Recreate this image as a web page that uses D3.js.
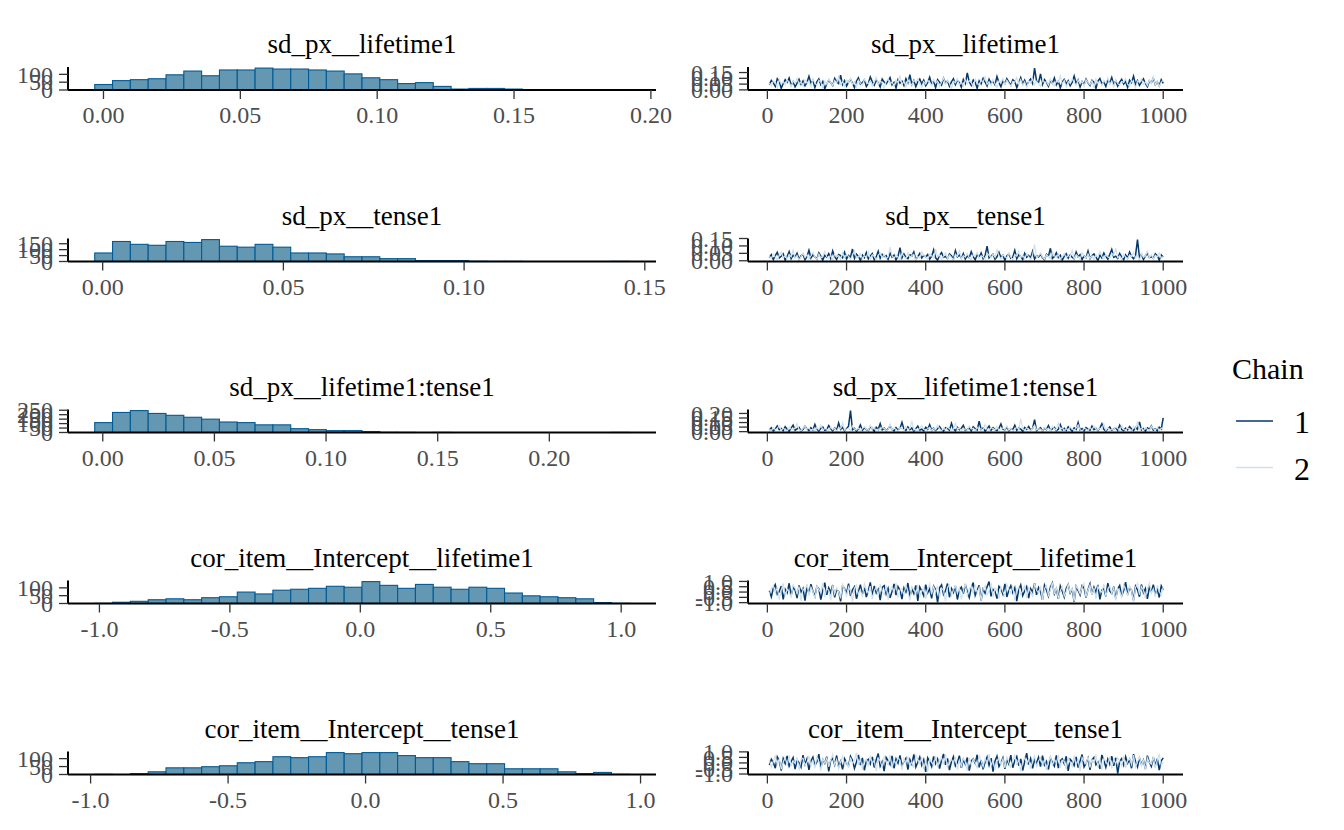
<!DOCTYPE html>
<html>
<head>
<meta charset="utf-8">
<script src="https://cdn.jsdelivr.net/npm/d3@7"></script>
<style>
  html, body { margin: 0; padding: 0; background: #ffffff; }
  svg { display: block; font-family: "Liberation Serif", "Times New Roman", serif; }
</style>
</head>
<body>
<svg id="chart" width="1344" height="830"></svg>
<script>
// ---------------- DATA ----------------
const params = ["sd_px__lifetime1", "sd_px__tense1", "sd_px__lifetime1:tense1",
                "cor_item__Intercept__lifetime1", "cor_item__Intercept__tense1"];

// histogram bins: first bin left edge, bin width, 30 counts
const histStart = [-0.0032, -0.0022, -0.0036, -1.018, -0.985];
const histWidth = [0.00651, 0.00493, 0.00798, 0.0683, 0.0648];
const histLifetime = [35,60,66,72,97,121,91,128,128,140,134,134,128,121,103,78,66,41,47,23,6,10,10,6,1,0,0,0,0,1];
const histTense = [72,169,145,137,169,161,185,129,121,145,121,72,72,64,40,40,24,24,8,8,8,2,1,1,0,0,0,0,0,1];
const histInteraction = [111,225,246,214,193,171,150,118,111,86,86,43,32,21,21,11,2,1,0,1,0,0,0,0,0,0,0,0,0,1];
const histCorLifetime = [1,8,14,24,30,24,37,43,73,61,85,91,97,110,104,140,116,97,122,104,91,104,97,67,49,43,37,30,6,1];
const histCorTense = [1,0,6,17,42,42,49,55,74,81,112,106,112,138,131,138,138,119,106,106,81,68,68,36,36,36,17,6,13,1];
const histCounts = [histLifetime, histTense, histInteraction, histCorLifetime, histCorTense];

const histXTicks = [[0,0.05,0.10,0.15,0.20],[0,0.05,0.10,0.15],[0,0.05,0.10,0.15,0.20],[-1,-0.5,0,0.5,1],[-1,-0.5,0,0.5,1]];
const histXLabels = [["0.00","0.05","0.10","0.15","0.20"],["0.00","0.05","0.10","0.15"],["0.00","0.05","0.10","0.15","0.20"],
                     ["-1.0","-0.5","0.0","0.5","1.0"],["-1.0","-0.5","0.0","0.5","1.0"]];
const histYTicks = [[0,50,100],[0,50,100,150],[0,50,100,150,200,250],[0,50,100],[0,50,100]];

const traceXTicks = [0,200,400,600,800,1000];
const traceXLabels = ["0","200","400","600","800","1000"];
const traceYTicks = [[0,0.05,0.10,0.15],[0,0.05,0.10,0.15],[0,0.05,0.10,0.15,0.20],[-1,-0.5,0,0.5,1],[-1,-0.5,0,0.5,1]];
const traceYLabels = [["0.00","0.05","0.10","0.15"],["0.00","0.05","0.10","0.15"],["0.00","0.05","0.10","0.15","0.20"],
                      ["-1.0","-0.5","0.0","0.5","1.0"],["-1.0","-0.5","0.0","0.5","1.0"]];
// trace draws are stored in these units (thousandths for sd, hundredths for cor), one value every 5 iterations
const traceUnit = [0.001, 0.001, 0.001, 0.01, 0.01];
const thinStep = 5;

const lifetimeChain1 = [45,82,61,30,97,74,12,55,88,66,103,41,70,26,59,92,48,77,35,64,
118,57,83,21,69,95,44,73,8,51,86,62,37,99,71,54,128,46,80,33,
67,91,58,19,75,104,49,63,87,29,56,112,72,40,84,60,24,93,68,52,
79,107,43,65,15,89,57,76,38,98,61,131,47,81,27,70,94,53,85,36,
63,110,50,74,18,88,66,42,101,59,78,32,69,96,45,83,62,23,90,55,
146,71,39,86,64,13,79,52,100,68,34,92,58,75,44,115,63,28,81,54,
97,67,41,88,73,20,60,106,49,84,37,71,95,56,189,77,62,139,46,89,
65,31,82,58,103,43,74,16,69,91,52,80,35,64,121,57,86,25,72,48,
94,61,38,83,67,11,76,99,53,70,29,87,59,108,45,78,33,66,92,50,
73,22,85,63,119,47,81,39,68,96,55,27,79,60,102,44,71,36,88,57];
const lifetimeChain2 = [58,36,77,64,19,90,52,71,43,85,66,28,79,55,102,47,69,33,88,61,
74,25,96,57,41,83,68,14,76,50,93,62,38,81,59,117,45,72,30,87,
63,100,48,70,22,84,56,39,91,67,53,78,31,65,109,44,80,60,17,73,
95,51,68,35,86,62,126,46,75,27,89,57,42,82,66,98,54,21,71,49,
85,63,37,92,58,76,29,67,104,45,81,56,12,74,61,97,40,70,33,87,
52,79,64,26,94,59,43,83,68,114,48,72,36,90,55,20,77,62,99,46,
84,57,31,73,66,107,50,88,39,69,16,80,60,95,44,75,53,28,86,63,
70,41,91,58,34,78,65,122,47,82,24,71,55,96,62,38,85,51,74,30,
89,64,45,79,18,93,57,68,36,83,60,105,48,76,27,87,54,42,72,65,
98,50,32,81,59,15,77,63,92,46,70,37,86,56,111,43,74,29,67,84];
const tenseChain1 = [22,41,8,35,57,19,30,47,3,28,62,14,38,25,51,10,33,44,6,29,
71,18,40,26,12,53,31,4,37,23,48,15,66,27,9,42,34,20,58,11,
36,24,79,16,45,30,2,39,21,55,13,32,49,7,26,64,17,43,28,35,
10,52,24,38,5,30,88,19,46,22,14,40,33,60,8,27,50,18,36,25,
42,11,31,74,20,4,37,56,23,29,15,45,34,9,68,26,39,17,48,12,
33,21,61,28,6,41,24,53,14,35,98,19,30,44,10,27,57,22,38,3,
32,47,16,25,70,13,40,29,8,51,23,36,18,63,11,34,26,45,20,7,
43,31,84,15,28,54,22,37,5,30,48,17,39,24,12,59,27,41,9,33,
21,66,14,35,46,25,2,38,19,52,29,11,43,76,23,31,16,49,26,6,
40,18,58,28,13,36,143,22,44,9,32,50,20,27,15,47,34,4,39,25];
const tenseChain2 = [31,14,46,25,6,38,59,20,33,11,42,27,72,17,36,4,29,51,22,40,
13,34,57,24,9,45,19,31,65,28,16,39,3,48,26,35,12,54,21,43,
30,8,37,69,18,27,47,15,33,23,61,10,41,29,5,36,52,20,44,14,
26,92,32,17,39,24,7,49,30,12,56,21,35,43,2,28,19,62,37,25,
11,46,33,18,80,27,40,9,31,53,16,38,22,4,44,29,67,13,35,24,
48,20,7,41,30,58,15,34,26,10,50,37,19,45,23,75,32,12,39,28,
17,55,25,3,42,31,64,21,36,14,47,27,8,38,110,19,33,52,24,11,
40,29,16,60,35,22,44,6,30,49,18,37,26,71,13,41,28,9,55,32,
20,46,15,34,5,39,23,63,30,12,43,27,18,51,36,85,21,33,8,45,
25,14,40,29,57,17,35,3,48,22,31,68,19,42,10,37,26,54,16,30];
const interactionChain1 = [18,42,7,29,63,21,35,11,54,26,3,38,72,15,31,47,9,24,58,33,
12,44,19,81,27,5,36,51,14,23,67,30,8,41,17,95,25,46,10,32,
60,232,20,37,6,28,74,16,43,22,13,55,34,2,48,26,88,19,39,11,
30,65,24,7,45,17,36,103,28,14,52,21,40,4,33,61,18,27,9,49,
25,78,15,38,12,31,57,22,6,43,35,16,92,29,10,47,20,37,69,13,
26,41,8,54,32,18,115,24,39,5,30,62,15,44,23,11,36,84,27,19,
50,9,33,21,71,14,40,28,3,46,25,58,17,35,131,12,29,42,7,38,
22,66,16,31,48,10,26,77,19,37,13,53,30,4,41,24,99,18,34,8,
45,27,15,60,21,36,11,39,86,25,6,32,51,17,28,43,14,70,23,9,
38,20,57,30,12,47,26,108,18,35,5,41,24,64,16,33,10,49,29,152];
const interactionChain2 = [27,9,46,20,33,68,14,38,24,5,51,30,17,42,85,22,11,36,59,26,
40,13,31,7,47,23,76,18,35,28,10,55,21,39,4,44,32,97,16,25,
37,12,62,29,19,41,8,34,53,24,15,71,27,43,6,30,20,48,36,11,
23,82,17,39,26,3,45,31,14,57,22,35,118,19,28,9,42,66,25,16,
33,48,12,37,21,74,29,7,40,18,52,31,13,27,90,23,44,5,36,20,
15,61,28,38,10,47,24,32,17,79,26,8,43,35,19,56,12,30,41,22,
64,16,37,4,29,50,21,140,33,14,45,25,11,39,70,18,31,27,6,48,
23,36,13,58,30,19,94,26,42,9,34,17,54,28,15,40,73,22,3,37,
29,11,46,20,63,32,16,38,25,87,14,44,7,30,21,51,35,12,67,24,
18,41,27,5,55,33,112,20,36,10,43,26,15,60,31,19,48,8,38,23];
const corLifetimeChain1 = [12,-45,38,71,-20,5,56,-68,27,-8,83,-33,44,19,-57,62,-2,35,-80,48,
-15,74,9,-41,53,30,-72,16,88,-26,41,-5,66,-50,24,7,-88,59,33,-12,
79,-37,20,50,-63,3,69,-22,42,-47,14,91,-30,57,-9,26,-76,45,61,-18,
36,-55,8,77,-28,52,18,-66,39,1,85,-43,29,-14,63,-83,47,10,-36,70,
-7,32,-60,55,23,-98,41,67,-24,13,80,-49,34,-3,58,-70,21,46,-16,73,
4,-52,37,89,-31,15,64,-78,28,-11,49,99,-40,25,6,-62,54,31,-21,76,
-46,17,60,-6,40,-85,22,68,-34,11,51,-58,33,-1,82,-27,43,2,-74,65,
19,-39,48,87,-17,30,-64,57,8,-48,36,72,-10,26,-90,53,14,-29,61,39,
-53,24,78,-23,45,-4,67,-69,18,35,-42,84,9,-13,50,-59,29,62,-35,12,
93,-25,40,16,-79,55,21,-44,71,-7,34,-65,47,3,69,-19,27,-51,58,20];
const corLifetimeChain2 = [-22,34,61,-9,47,-71,18,83,-38,26,4,-55,69,40,-15,52,-84,29,11,77,
-31,45,7,-62,58,23,-4,90,-47,36,15,-78,64,-19,42,1,-59,73,27,-35,
50,10,-91,38,66,-26,21,-49,81,32,-12,56,-67,14,44,-40,75,5,-23,60,
-74,31,48,-8,86,-53,19,37,-30,65,2,-81,54,25,-16,71,-44,12,41,-63,
28,79,-21,49,-3,62,-56,35,16,-87,46,70,-33,22,57,-11,39,-70,9,84,
-42,30,53,-18,67,-6,43,-76,24,60,-28,13,88,-50,37,20,-65,51,3,-37,
74,27,-14,58,-82,33,46,-25,11,68,-57,40,6,-45,79,17,-10,55,-73,31,
63,-32,23,92,-20,44,-61,15,50,-39,8,72,-5,36,-86,59,26,-17,47,82,
-48,19,65,-27,39,-68,54,12,-2,76,-41,29,61,-13,45,-79,34,7,-54,70,
25,-36,57,14,-93,42,80,-24,52,18,-60,37,87,-11,30,-46,64,4,-29,49];
const corTenseChain1 = [-18,33,5,-47,56,21,-70,40,-6,64,-29,12,48,-55,27,3,-38,71,-13,36,
-62,18,52,-24,9,79,-44,30,-3,58,-76,23,43,-16,67,-35,14,-58,39,1,
-27,61,25,-50,8,73,-20,45,-66,17,34,-9,55,-41,29,85,-31,11,-73,50,
20,-14,63,-48,37,-2,69,-26,15,42,-60,31,-11,77,-37,6,54,-22,28,-81,
46,13,-33,59,-7,35,-52,24,82,-17,41,-64,10,57,-28,2,66,-45,32,-12,
49,-69,19,38,-4,74,-39,26,-57,7,53,-21,44,-78,16,62,-32,0,47,-53,
30,-10,70,-43,22,58,-25,36,-68,11,89,-15,40,-49,27,-1,51,-34,65,-19,
14,-59,45,4,-30,68,-46,21,37,-8,60,-71,33,12,-23,55,-42,18,76,-36,
-5,43,-63,28,50,-16,9,-54,72,24,-40,35,-11,61,-27,47,-95,15,39,-20,
57,-3,31,-48,80,13,-35,44,-14,25,-56,66,6,-31,52,-24,38,-65,20,46];
const corTenseChain2 = [27,-40,15,62,-11,36,-57,8,49,-24,71,-33,19,-5,54,-67,30,42,-18,3,
65,-29,22,-48,57,11,-72,38,-2,46,-36,25,78,-15,33,-53,9,60,-26,17,
-44,51,-8,29,94,-21,40,-61,13,35,-31,67,-4,23,-75,44,18,-38,56,6,
-19,74,-50,31,-12,47,26,-65,39,1,59,-28,14,-43,69,34,-7,53,-56,21,
-83,37,10,-22,63,-39,28,45,-14,76,-47,16,32,-3,55,-60,24,-30,41,12,
-70,50,-17,35,7,-51,66,20,-34,43,-9,81,-25,29,-63,15,48,-13,37,-45,
58,4,-37,26,72,-20,39,-79,11,52,-6,33,-54,22,64,-41,18,45,-16,30,
-68,8,61,-27,36,-1,73,-46,25,14,-58,42,5,-32,67,-19,28,-73,49,17,
-10,56,-42,31,2,77,-35,23,-62,40,13,-23,59,-52,34,-8,47,19,-30,64,
-48,21,38,-15,70,-39,10,54,-26,32,-66,45,3,-12,57,-44,26,79,-21,8];

const chain1 = [lifetimeChain1, tenseChain1, interactionChain1, corLifetimeChain1, corTenseChain1];
const chain2 = [lifetimeChain2, tenseChain2, interactionChain2, corLifetimeChain2, corTenseChain2];
const chainNames = ["1", "2"];
const chainColors = ["#03396c", "#d1e1ec"];

// ---------------- LAYOUT ----------------
const svg = d3.select("#chart");
const leftX = [68, 656], rightX = [748, 1183];
const rowBottom = [90, 261.5, 432.5, 603.5, 774.5];
const panelH = 23;
const tickLen = 9;
const tickFont = 24, titleFont = 27;
const tickColor = "#4d4d4d";

function expand(ext, f = 0.05) {
  const r = ext[1] - ext[0];
  return [ext[0] - r * f, ext[1] + r * f];
}

function drawAxes(g, x, y, xTicks, xLabels, yTicks, yLabels, bottom, top, x0, x1) {
  g.append("line").attr("x1", x0).attr("x2", x1).attr("y1", bottom).attr("y2", bottom)
    .attr("stroke", "#000").attr("stroke-width", 2);
  g.append("line").attr("x1", x0).attr("x2", x0).attr("y1", top).attr("y2", bottom)
    .attr("stroke", "#000").attr("stroke-width", 2);
  xTicks.forEach((t, i) => {
    const px = x(t);
    g.append("line").attr("x1", px).attr("x2", px).attr("y1", bottom).attr("y2", bottom + tickLen)
      .attr("stroke", "#333").attr("stroke-width", 1.3);
    g.append("text").attr("x", px).attr("y", bottom + 33).attr("text-anchor", "middle")
      .attr("font-size", tickFont).attr("fill", tickColor).text(xLabels[i]);
  });
  yTicks.forEach((t, i) => {
    const py = y(t);
    g.append("line").attr("x1", x0 - tickLen).attr("x2", x0).attr("y1", py).attr("y2", py)
      .attr("stroke", "#333").attr("stroke-width", 1.3);
    g.append("text").attr("x", x0 - tickLen - 6).attr("y", py).attr("dy", "0.34em")
      .attr("text-anchor", "end").attr("font-size", tickFont).attr("fill", tickColor).text(yLabels[i]);
  });
}

params.forEach((name, r) => {
  const bottom = rowBottom[r], top = bottom - panelH;

  // ---------- histogram ----------
  const gH = svg.append("g");
  const counts = histCounts[r];
  const bins = counts.map((c, i) => ({
    x0: histStart[r] + i * histWidth[r],
    x1: histStart[r] + (i + 1) * histWidth[r],
    c: c
  }));
  const xH = d3.scaleLinear().domain(expand([bins[0].x0, bins[bins.length - 1].x1])).range(leftX);
  const yH = d3.scaleLinear().domain([0, d3.max(counts) * 1.05]).range([bottom, top]);
  gH.selectAll("rect").data(bins).join("rect")
    .attr("x", d => xH(d.x0)).attr("width", d => xH(d.x1) - xH(d.x0))
    .attr("y", d => yH(d.c)).attr("height", d => yH(0) - yH(d.c))
    .attr("fill", "#6497b1").attr("stroke", "#005b96").attr("stroke-width", 1.1);
  drawAxes(gH, xH, yH, histXTicks[r], histXLabels[r], histYTicks[r], histYTicks[r].map(String),
           bottom, top, leftX[0], leftX[1]);
  gH.append("text").attr("x", (leftX[0] + leftX[1]) / 2).attr("y", bottom - 37)
    .attr("text-anchor", "middle").attr("font-size", titleFont).attr("fill", "#000").text(name);

  // ---------- trace ----------
  const gT = svg.append("g");
  const s1 = chain1[r].map((v, i) => ({ it: (i + 1) * thinStep, v: v * traceUnit[r] }));
  const s2 = chain2[r].map((v, i) => ({ it: (i + 1) * thinStep, v: v * traceUnit[r] }));
  const all = s1.concat(s2);
  const xT = d3.scaleLinear().domain(expand([1, 1000])).range(rightX);
  const yT = d3.scaleLinear().domain(expand(d3.extent(all, d => d.v))).range([bottom, top]);
  const line = d3.line().x(d => xT(d.it)).y(d => yT(d.v));
  [s1, s2].forEach((s, ci) => {
    gT.append("path").datum(s).attr("d", line).attr("fill", "none")
      .attr("stroke", chainColors[ci]).attr("stroke-width", ci === 0 ? 1.5 : 1.2)
      .attr("stroke-linejoin", "miter");
  });
  drawAxes(gT, xT, yT, traceXTicks, traceXLabels, traceYTicks[r], traceYLabels[r],
           bottom, top, rightX[0], rightX[1]);
  gT.append("text").attr("x", (rightX[0] + rightX[1]) / 2).attr("y", bottom - 37)
    .attr("text-anchor", "middle").attr("font-size", titleFont).attr("fill", "#000").text(name);
});

// ---------------- LEGEND ----------------
const lg = svg.append("g");
lg.append("text").attr("x", 1232).attr("y", 379).attr("font-size", 30).attr("fill", "#000").text("Chain");
chainNames.forEach((n, i) => {
  const cy = 421 + i * 46.5;
  lg.append("line").attr("x1", 1236).attr("x2", 1273).attr("y1", cy).attr("y2", cy)
    .attr("stroke", chainColors[i]).attr("stroke-width", 1.5);
  lg.append("text").attr("x", 1294).attr("y", cy + 12).attr("font-size", 32).attr("fill", "#000").text(n);
});
</script>
</body>
</html>
